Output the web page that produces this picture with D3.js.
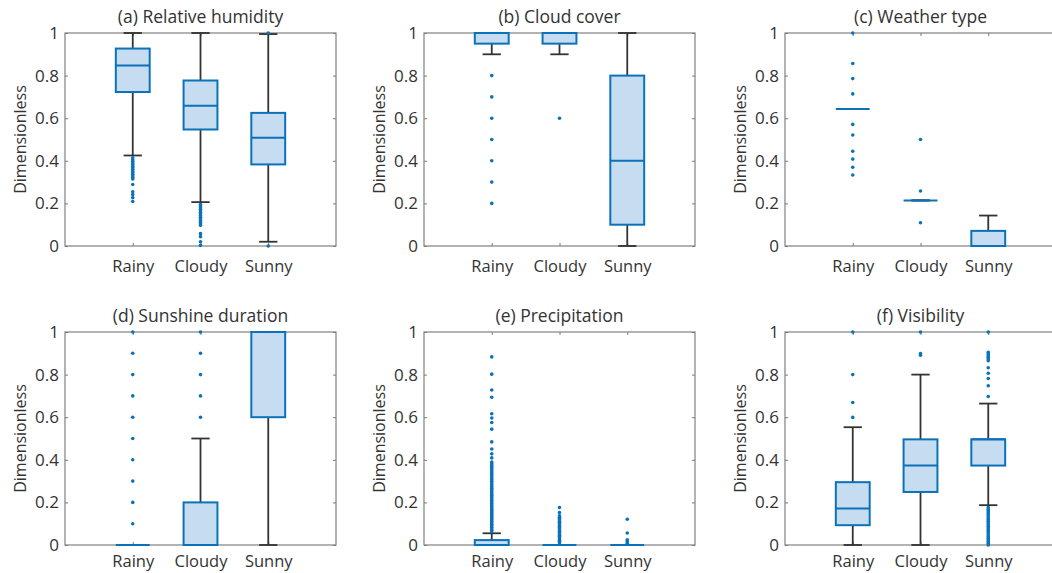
<!DOCTYPE html>
<html>
<head>
<meta charset="utf-8">
<script src="https://cdn.jsdelivr.net/npm/d3@7"></script>
<style>
    body { margin: 0; background: #fff; }
    text { font-family: "Open Sans", sans-serif; fill: #333; }
</style>
</head>
<body>
<div id="chart"></div>
<script>
const categories = ["Rainy", "Cloudy", "Sunny"];
const yTicks = [0, 0.2, 0.4, 0.6, 0.8, 1];
const panelTitles = ["(a) Relative humidity", "(b) Cloud cover", "(c) Weather type",
    "(d) Sunshine duration", "(e) Precipitation", "(f) Visibility"];

// each box: [lower whisker, q1, median, q3, upper whisker]
const humidityBoxes = [[0.425, 0.723, 0.848, 0.927, 1.0], [0.206, 0.547, 0.659, 0.777, 1.0], [0.02, 0.383, 0.508, 0.625, 0.995]];
const humidityOutliers = [
    [0.414, 0.405, 0.398, 0.39, 0.383, 0.375, 0.368, 0.36, 0.352, 0.345, 0.337, 0.33, 0.322, 0.315, 0.289, 0.255, 0.242, 0.227, 0.209],
    [0.195, 0.188, 0.18, 0.172, 0.165, 0.158, 0.15, 0.142, 0.135, 0.128, 0.12, 0.112, 0.105, 0.097, 0.058, 0.044, 0.02, 0.003],
    [1.0, 0.0]
];

const cloudBoxes = [[0.9, 0.95, 1.0, 1.0, 1.0], [0.9, 0.95, 1.0, 1.0, 1.0], [0.0, 0.1, 0.4, 0.8, 1.0]];
const cloudOutliers = [[0.8, 0.7, 0.6, 0.5, 0.4, 0.3, 0.2], [0.6], []];

const weatherBoxes = [[0.643, 0.643, 0.643, 0.643, 0.643], [0.214, 0.214, 0.214, 0.214, 0.214], [0.0, 0.0, 0.0, 0.071, 0.143]];
const weatherOutliers = [[1.0, 0.857, 0.786, 0.714, 0.571, 0.521, 0.445, 0.408, 0.37, 0.333], [0.5, 0.258, 0.109], []];

const sunshineBoxes = [[0, 0, 0, 0, 0], [0, 0, 0, 0.2, 0.5], [0, 0.6, 1.0, 1.0, 1.0]];
const sunshineOutliers = [[1.0, 0.9, 0.8, 0.7, 0.6, 0.5, 0.4, 0.3, 0.2, 0.1], [1.0, 0.9, 0.8, 0.7, 0.6], []];

const precipBoxes = [[0, 0, 0, 0.023, 0.055], [0, 0, 0, 0, 0], [0, 0, 0, 0, 0]];
const precipOutliers = [
    [0.883, 0.802, 0.728, 0.694, 0.616, 0.596, 0.575, 0.544, 0.484, 0.451, 0.428, 0.409, 0.39, 0.382, 0.374, 0.365,
     0.357, 0.349, 0.34, 0.332, 0.324, 0.316, 0.307, 0.299, 0.291, 0.283, 0.275, 0.266, 0.258, 0.25, 0.242, 0.234,
     0.226, 0.218, 0.21, 0.202, 0.195, 0.188, 0.181, 0.174, 0.167, 0.16, 0.153, 0.146, 0.139, 0.132, 0.125, 0.118,
     0.111, 0.104, 0.097, 0.09, 0.083, 0.076, 0.069, 0.062],
    [0.176, 0.152, 0.137, 0.13, 0.124, 0.118, 0.112, 0.106, 0.1, 0.094, 0.088, 0.082, 0.076, 0.07, 0.064, 0.058,
     0.052, 0.046, 0.04, 0.034, 0.028, 0.022, 0.016, 0.01],
    [0.121, 0.056, 0.025, 0.016, 0.008]
];

const visBoxes = [[0, 0.093, 0.171, 0.295, 0.553], [0, 0.249, 0.373, 0.496, 0.8], [0.187, 0.373, 0.496, 0.496, 0.664]];
const visOutliers = [
    [1.0, 0.8, 0.669, 0.599],
    [1.0, 0.899, 0.891],
    [1.0, 0.905, 0.897, 0.889, 0.881, 0.873, 0.865, 0.832, 0.806, 0.782, 0.748, 0.697,
     0.176, 0.168, 0.16, 0.152, 0.144, 0.136, 0.128, 0.12, 0.112, 0.104, 0.096, 0.088, 0.08, 0.072,
     0.064, 0.056, 0.048, 0.04, 0.032, 0.024, 0.016, 0.008, 0.0]
];

const panelBoxes = [humidityBoxes, cloudBoxes, weatherBoxes, sunshineBoxes, precipBoxes, visBoxes];
const panelOutliers = [humidityOutliers, cloudOutliers, weatherOutliers, sunshineOutliers, precipOutliers, visOutliers];

const svg = d3.select("#chart").append("svg")
    .attr("width", 1052)
    .attr("height", 573);

class BoxPanel {
    constructor(_svg, _left, _top, _title, _boxes, _outliers, _labelPad) {
        this.root = _svg;
        this.left = _left;
        this.top = _top;
        this.title = _title;
        this.boxes = _boxes;
        this.outliers = _outliers;
        this.labelPad = _labelPad;
        this.initVis();
    }

    initVis() {
        const vis = this;

        vis.width = 271;
        vis.height = 213;

        vis.g = vis.root.append("g")
            .attr("transform", `translate(${vis.left}, ${vis.top})`);

        vis.x = d3.scaleLinear().domain([0, 4]).range([0, vis.width]);
        vis.y = d3.scaleLinear().domain([0, 1]).range([vis.height, 0]);

        const xPos = (d, i) => vis.x(i + 1);

        // axes, ticks pointing inward on all four sides
        vis.g.append("g")
            .attr("transform", `translate(0,${vis.height})`)
            .call(d3.axisBottom(vis.x).tickValues([1, 2, 3]).tickFormat(d => categories[d - 1])
                .tickSizeInner(-3).tickSizeOuter(0).tickPadding(vis.labelPad))
            .call(g => g.select(".domain").remove())
            .call(g => g.selectAll("text").style("font-size", "16.5px"));

        vis.g.append("g")
            .call(d3.axisTop(vis.x).tickValues([1, 2, 3]).tickFormat("").tickSizeInner(-3).tickSizeOuter(0))
            .call(g => g.select(".domain").remove());

        vis.g.append("g")
            .call(d3.axisLeft(vis.y).tickValues(yTicks).tickFormat(d3.format("~g"))
                .tickSizeInner(-3).tickSizeOuter(0).tickPadding(6))
            .call(g => g.select(".domain").remove())
            .call(g => g.selectAll("text").style("font-size", "17px"));

        vis.g.append("g")
            .attr("transform", `translate(${vis.width},0)`)
            .call(d3.axisRight(vis.y).tickValues(yTicks).tickFormat("").tickSizeInner(-3).tickSizeOuter(0))
            .call(g => g.select(".domain").remove());

        vis.g.selectAll(".tick line").attr("stroke", "#777");

        vis.g.append("rect")
            .attr("width", vis.width)
            .attr("height", vis.height)
            .attr("fill", "none")
            .attr("stroke", "#808080")
            .attr("stroke-width", 1.2);

        vis.g.append("text")
            .attr("x", vis.width / 2)
            .attr("y", -10)
            .attr("text-anchor", "middle")
            .style("font-size", "17.5px")
            .attr("fill", "#222")
            .text(vis.title);

        vis.g.append("text")
            .attr("transform", `translate(-39,${vis.height / 2}) rotate(-90)`)
            .attr("text-anchor", "middle")
            .style("font-size", "16px")
            .text("Dimensionless");

        const boxW = vis.x(0.25) - vis.x(0);
        const capW = vis.x(0.135) - vis.x(0);

        // whiskers
        const wh = vis.g.append("g").attr("stroke", "#333").attr("stroke-width", 1.8);
        wh.selectAll(".whisker-lo").data(vis.boxes).enter().append("line")
            .attr("x1", xPos).attr("x2", xPos)
            .attr("y1", d => vis.y(d[0])).attr("y2", d => vis.y(d[1]));
        wh.selectAll(".whisker-hi").data(vis.boxes).enter().append("line")
            .attr("x1", xPos).attr("x2", xPos)
            .attr("y1", d => vis.y(d[3])).attr("y2", d => vis.y(d[4]));
        wh.selectAll(".cap-lo").data(vis.boxes).enter().append("line")
            .attr("x1", (d, i) => xPos(d, i) - capW).attr("x2", (d, i) => xPos(d, i) + capW)
            .attr("y1", d => vis.y(d[0])).attr("y2", d => vis.y(d[0]));
        wh.selectAll(".cap-hi").data(vis.boxes).enter().append("line")
            .attr("x1", (d, i) => xPos(d, i) - capW).attr("x2", (d, i) => xPos(d, i) + capW)
            .attr("y1", d => vis.y(d[4])).attr("y2", d => vis.y(d[4]));

        // boxes
        vis.g.selectAll(".box").data(vis.boxes).enter().append("rect")
            .attr("class", "box")
            .attr("x", (d, i) => xPos(d, i) - boxW)
            .attr("width", 2 * boxW)
            .attr("y", d => vis.y(d[3]))
            .attr("height", d => vis.y(d[1]) - vis.y(d[3]))
            .attr("fill", "#c6dcf1")
            .attr("stroke", "#0b72b9")
            .attr("stroke-width", 2);

        // medians
        vis.g.selectAll(".median").data(vis.boxes).enter().append("line")
            .attr("x1", (d, i) => xPos(d, i) - boxW).attr("x2", (d, i) => xPos(d, i) + boxW)
            .attr("y1", d => vis.y(d[2])).attr("y2", d => vis.y(d[2]))
            .attr("stroke", "#0b72b9")
            .attr("stroke-width", 2);

        // outliers
        const pts = [];
        vis.outliers.forEach((arr, i) => arr.forEach(v => pts.push({ i: i, v: v })));
        vis.g.selectAll(".outlier").data(pts).enter().append("circle")
            .attr("cx", d => vis.x(d.i + 1))
            .attr("cy", d => vis.y(d.v))
            .attr("r", 1.8)
            .attr("fill", "#0b72b9");
    }
}

const lefts = [65, 424, 785];
const tops = [33, 332];
const labelPads = [14, 10];
panelTitles.forEach((t, k) => {
    const row = Math.floor(k / 3);
    new BoxPanel(svg, lefts[k % 3], tops[row], t, panelBoxes[k], panelOutliers[k], labelPads[row]);
});
</script>
</body>
</html>
